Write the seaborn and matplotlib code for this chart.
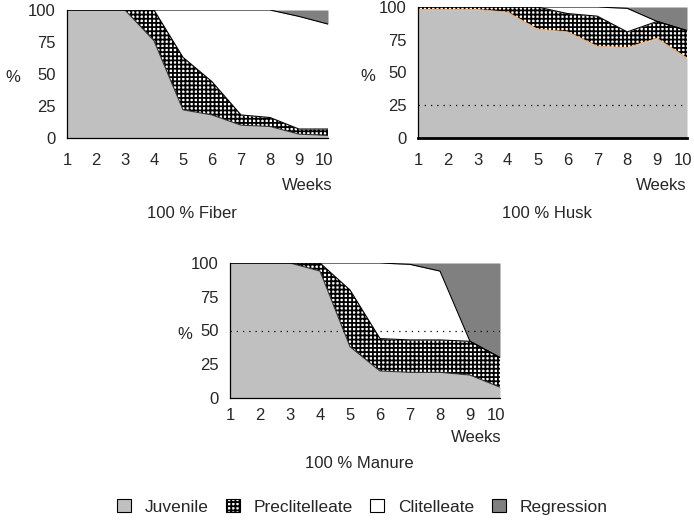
import numpy as np
import pandas as pd
import seaborn as sns
import matplotlib.pyplot as plt
import matplotlib.transforms as mtransforms
from matplotlib.patches import Patch

weeks = list(range(1, 11))
stages = ["Juvenile", "Preclitelleate", "Clitelleate", "Regression"]

# share of worms (%) in each stage, per week
fiber_juvenile = [100, 100, 100, 76, 22, 18, 10, 9, 3, 2]
fiber_preclit = [0, 0, 0, 24, 41, 26, 8, 7, 4, 5]
fiber_clit = [0, 0, 0, 0, 37, 56, 82, 84, 88, 82]
fiber_regression = [0, 0, 0, 0, 0, 0, 0, 0, 5, 11]

husk_juvenile = [98, 98, 98, 96, 83, 81, 70, 69, 76, 61]
husk_preclit = [2, 2, 2, 4, 17, 14, 23, 12, 13, 21]
husk_clit = [0, 0, 0, 0, 0, 5, 7, 18, 0, 0]
husk_regression = [0, 0, 0, 0, 0, 0, 0, 1, 11, 18]

manure_juvenile = [100, 100, 100, 94, 38, 20, 19, 19, 17, 8]
manure_preclit = [0, 0, 0, 6, 42, 24, 24, 24, 25, 22]
manure_clit = [0, 0, 0, 0, 20, 56, 56, 51, 0, 0]
manure_regression = [0, 0, 0, 0, 0, 0, 1, 6, 58, 70]

y_ticks = [0, 25, 50, 75, 100]

sns.set_style("white")
plt.rcParams["font.family"] = ["Liberation Sans", "DejaVu Sans"]
plt.rcParams["hatch.linewidth"] = 1.3

JUV = "#c0c0c0"
REG = "#808080"
FS = 12
HATCH = "++++"


def draw_panel(ax, juv, pre, clit, reg, title, ref_line=None, juv_edge="#333333",
               xpad=8, weeks_off=-47, title_off=-75, pct_x=-0.2, weeks_dx=2):
    df = pd.DataFrame({"week": weeks, "Juvenile": juv, "Preclitelleate": pre,
                       "Clitelleate": clit, "Regression": reg})
    cum = df[stages].cumsum(axis=1)
    ax.fill_between(df["week"], 0, cum["Juvenile"], facecolor=JUV, lw=0)
    ax.fill_between(df["week"], cum["Juvenile"], cum["Preclitelleate"],
                    facecolor="white", edgecolor="black", hatch=HATCH, lw=0)
    ax.fill_between(df["week"], cum["Preclitelleate"], cum["Clitelleate"],
                    facecolor="white", lw=0)
    ax.fill_between(df["week"], cum["Clitelleate"], cum["Regression"],
                    facecolor=REG, lw=0)
    sns.lineplot(x=df["week"], y=cum["Juvenile"], ax=ax, color=juv_edge, lw=0.8)
    sns.lineplot(x=df["week"], y=cum["Preclitelleate"], ax=ax, color="black", lw=0.8)
    sns.lineplot(x=df["week"], y=cum["Clitelleate"], ax=ax, color="black", lw=0.8)
    if ref_line is not None:
        ax.axhline(ref_line, color="black", ls=(0, (1, 4)), lw=0.9)

    ax.set_xlim(1, 10)
    ax.set_ylim(0, 100)
    ax.set_xticks(weeks)
    ax.set_yticks(y_ticks)
    ax.tick_params(axis="x", length=3, width=0.8, pad=xpad, labelsize=FS, direction="out")
    ax.tick_params(axis="y", length=3, width=0.8, pad=5, labelsize=FS, direction="out")
    # nudge the last week label left, as in the original
    last = ax.get_xticklabels()[-1]
    last.set_transform(last.get_transform() +
                       mtransforms.ScaledTranslation(-0.04, 0, ax.figure.dpi_scale_trans))
    for s in ["top", "right"]:
        ax.spines[s].set_visible(False)
    for s in ["left", "bottom"]:
        ax.spines[s].set_color("black")
        ax.spines[s].set_linewidth(0.9)
    ax.set_xlabel("")
    ax.set_ylabel("%", rotation=0, fontsize=FS, va="center", ha="center")
    ax.yaxis.set_label_coords(pct_x, 0.47)
    ax.annotate("Weeks", xy=(1.0, 0), xycoords="axes fraction", xytext=(weeks_dx, weeks_off),
                textcoords="offset pixels", ha="right", va="center", fontsize=FS)
    ax.annotate(title, xy=(0.48, 0), xycoords="axes fraction", xytext=(0, title_off),
                textcoords="offset pixels", ha="center", va="center", fontsize=FS)


fig = plt.figure(figsize=(6.94, 5.21), dpi=100)
ax1 = fig.add_axes([67 / 694, 1 - 138 / 521, 261 / 694, 128 / 521])
ax2 = fig.add_axes([418 / 694, 1 - 138 / 521, 269 / 694, 131 / 521])
ax3 = fig.add_axes([230 / 694, 1 - 398 / 521, 270 / 694, 135 / 521])

draw_panel(ax1, fiber_juvenile, fiber_preclit, fiber_clit, fiber_regression, "100 % Fiber",
           pct_x=-0.207, weeks_dx=5)
draw_panel(ax2, husk_juvenile, husk_preclit, husk_clit, husk_regression, "100 % Husk",
           ref_line=25, juv_edge="#f0a868", pct_x=-0.186, weeks_dx=0)
ax2.spines["bottom"].set_linewidth(2)
draw_panel(ax3, manure_juvenile, manure_preclit, manure_clit, manure_regression,
           "100 % Manure", ref_line=50, xpad=4, weeks_off=-40, title_off=-65, pct_x=-0.167)

handles = [
    Patch(facecolor=JUV, edgecolor="black", lw=0.8),
    Patch(facecolor="white", edgecolor="black", hatch=HATCH, lw=0.8),
    Patch(facecolor="white", edgecolor="black", lw=0.8),
    Patch(facecolor=REG, edgecolor="black", lw=0.8),
]
fig.legend(handles, stages, loc="center", bbox_to_anchor=(0.522, 0.027), ncol=4,
           frameon=False, fontsize=12.5, handlelength=0.8, handleheight=0.8,
           handletextpad=0.8, columnspacing=1.0)

fig.savefig("out.png", dpi=100)
